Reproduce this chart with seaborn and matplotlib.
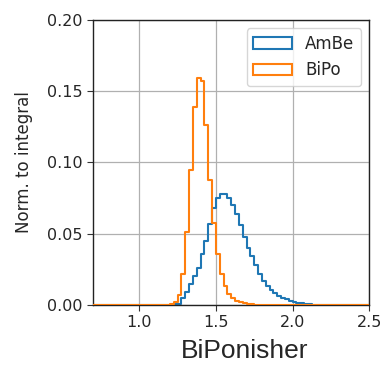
import numpy as np
import pandas as pd
import matplotlib
matplotlib.use("Agg")
import matplotlib.pyplot as plt
from matplotlib.patches import Patch
from matplotlib.colors import to_hex
import seaborn as sns

# Per-bin fractions of events (each sample normalised to unit integral)
bin_width = 0.025
ambe_first_edge = 1.225
ambe_frac = [0.0005, 0.001, 0.0047, 0.0093, 0.015, 0.020, 0.026, 0.036, 0.045,
             0.057, 0.068, 0.075, 0.078, 0.078, 0.075, 0.070, 0.064, 0.056,
             0.048, 0.040, 0.034, 0.028, 0.022, 0.017, 0.013, 0.0105, 0.0082,
             0.0065, 0.005, 0.004, 0.003, 0.0023, 0.0016, 0.0011, 0.0008,
             0.0005, 0.0003, 0.0002, 0.0001]
bipo_first_edge = 1.200
bipo_frac = [0.0005, 0.002, 0.007, 0.022, 0.051, 0.095, 0.139, 0.159, 0.157,
             0.126, 0.088, 0.0575, 0.036, 0.022, 0.013, 0.0077, 0.0047, 0.003,
             0.002, 0.0012, 0.0007, 0.0004, 0.0002]
samples = ["AmBe", "BiPo"]
colors = ["#1f77b4", "#ff7f0e"]

x_ticks = [1.0, 1.5, 2.0, 2.5]
y_ticks = [0.00, 0.05, 0.10, 0.15, 0.20]


def centres(first_edge, n):
    return first_edge + bin_width * (np.arange(n) + 0.5)


df = pd.concat([
    pd.DataFrame({"BiPonisher": centres(ambe_first_edge, len(ambe_frac)),
                  "frac": ambe_frac, "sample": "AmBe"}),
    pd.DataFrame({"BiPonisher": centres(bipo_first_edge, len(bipo_frac)),
                  "frac": bipo_frac, "sample": "BiPo"}),
], ignore_index=True)

edges = [float(e) for e in np.arange(0.5, 3.0 + bin_width / 2, bin_width)]

sns.set_style("ticks")
fig = plt.figure(figsize=(3.85, 3.76), dpi=100)
ax = fig.add_axes([0.2424, 0.189, 0.7166, 0.7578])

sns.histplot(data=df, x="BiPonisher", weights="frac", hue="sample",
             hue_order=samples, palette=dict(zip(samples, colors)),
             bins=edges, element="step", fill=False, linewidth=1.5,
             legend=False, ax=ax)

# BiPo drawn above AmBe, as in a plain matplotlib loop
for line in ax.lines:
    line.set_zorder(3 if to_hex(line.get_color()) == colors[1] else 2.5)

ax.set_xlim(0.7, 2.5)
ax.set_ylim(0, 0.2)
ax.set_xticks(x_ticks)
ax.set_yticks(y_ticks)
ax.set_yticklabels([f"{v:.2f}" for v in y_ticks])
ax.grid(True, color="#b0b0b0", linewidth=0.9)
ax.set_axisbelow(True)
ax.tick_params(labelsize=11.5, direction="out", length=4, color="#333333")
for s in ax.spines.values():
    s.set_color("#222222")
    s.set_linewidth(1.0)

ax.set_ylabel("Norm. to integral", fontsize=12)
ax.yaxis.set_label_coords(-0.22, 0.5)
ax.set_xlabel("BiPonisher", fontsize=19, family="Liberation Sans")
ax.xaxis.set_label_coords(0.55, -0.118)

handles = [Patch(facecolor="none", edgecolor=c, linewidth=1.5, label=s)
           for s, c in zip(samples, colors)]
ax.legend(handles=handles, loc="upper right", fontsize=12, handlelength=2.3,
          frameon=True)

fig.savefig("out.png", dpi=100)
